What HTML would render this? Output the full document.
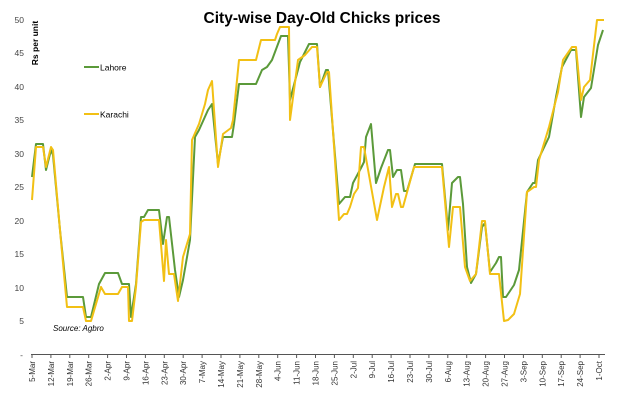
<!DOCTYPE html>
<html><head><meta charset="utf-8"><style>
html,body{margin:0;padding:0;background:#fff;}
svg{display:block;font-family:"Liberation Sans",Arial,sans-serif;}
</style></head><body>
<svg width="619" height="401" viewBox="0 0 619 401">
<text x="322" y="23" font-size="15.5" font-weight="bold" text-anchor="middle" fill="#000">City-wise Day-Old Chicks prices</text>
<text transform="translate(38,43) rotate(-90)" font-size="8.5" font-weight="bold" text-anchor="middle" fill="#000">Rs per unit</text>
<g font-size="8.5" fill="#444" text-anchor="end">
<text x="24" y="23">50</text><text x="24" y="56">45</text><text x="24" y="90">40</text>
<text x="24" y="123">35</text><text x="24" y="157">30</text><text x="24" y="190">25</text>
<text x="24" y="224">20</text><text x="24" y="257">15</text><text x="24" y="291">10</text>
<text x="24" y="324">5</text><text x="23" y="358">-</text>
</g>
<line x1="31" y1="354.5" x2="605" y2="354.5" stroke="#555" stroke-width="1"/>
<g stroke="#555" stroke-width="1">
<line x1="32" y1="354.5" x2="32" y2="358"/><line x1="50.9" y1="354.5" x2="50.9" y2="358"/><line x1="69.8" y1="354.5" x2="69.8" y2="358"/><line x1="88.7" y1="354.5" x2="88.7" y2="358"/><line x1="107.6" y1="354.5" x2="107.6" y2="358"/><line x1="126.5" y1="354.5" x2="126.5" y2="358"/><line x1="145.4" y1="354.5" x2="145.4" y2="358"/><line x1="164.3" y1="354.5" x2="164.3" y2="358"/><line x1="183.2" y1="354.5" x2="183.2" y2="358"/><line x1="202.1" y1="354.5" x2="202.1" y2="358"/><line x1="221" y1="354.5" x2="221" y2="358"/><line x1="239.9" y1="354.5" x2="239.9" y2="358"/><line x1="258.8" y1="354.5" x2="258.8" y2="358"/><line x1="277.7" y1="354.5" x2="277.7" y2="358"/><line x1="296.6" y1="354.5" x2="296.6" y2="358"/><line x1="315.5" y1="354.5" x2="315.5" y2="358"/><line x1="334.4" y1="354.5" x2="334.4" y2="358"/><line x1="353.3" y1="354.5" x2="353.3" y2="358"/><line x1="372.2" y1="354.5" x2="372.2" y2="358"/><line x1="391.1" y1="354.5" x2="391.1" y2="358"/><line x1="410" y1="354.5" x2="410" y2="358"/><line x1="428.9" y1="354.5" x2="428.9" y2="358"/><line x1="447.8" y1="354.5" x2="447.8" y2="358"/><line x1="466.7" y1="354.5" x2="466.7" y2="358"/><line x1="485.6" y1="354.5" x2="485.6" y2="358"/><line x1="504.5" y1="354.5" x2="504.5" y2="358"/><line x1="523.4" y1="354.5" x2="523.4" y2="358"/><line x1="542.3" y1="354.5" x2="542.3" y2="358"/><line x1="561.2" y1="354.5" x2="561.2" y2="358"/><line x1="580.1" y1="354.5" x2="580.1" y2="358"/><line x1="599" y1="354.5" x2="599" y2="358"/>
</g>
<g font-size="8" fill="#333" text-anchor="end">
<text transform="translate(35,361) rotate(-90)">5-Mar</text>
<text transform="translate(53.9,361) rotate(-90)">12-Mar</text>
<text transform="translate(72.8,361) rotate(-90)">19-Mar</text>
<text transform="translate(91.7,361) rotate(-90)">26-Mar</text>
<text transform="translate(110.6,361) rotate(-90)">2-Apr</text>
<text transform="translate(129.5,361) rotate(-90)">9-Apr</text>
<text transform="translate(148.4,361) rotate(-90)">16-Apr</text>
<text transform="translate(167.3,361) rotate(-90)">23-Apr</text>
<text transform="translate(186.2,361) rotate(-90)">30-Apr</text>
<text transform="translate(205.1,361) rotate(-90)">7-May</text>
<text transform="translate(224,361) rotate(-90)">14-May</text>
<text transform="translate(242.9,361) rotate(-90)">21-May</text>
<text transform="translate(261.8,361) rotate(-90)">28-May</text>
<text transform="translate(280.7,361) rotate(-90)">4-Jun</text>
<text transform="translate(299.6,361) rotate(-90)">11-Jun</text>
<text transform="translate(318.5,361) rotate(-90)">18-Jun</text>
<text transform="translate(337.4,361) rotate(-90)">25-Jun</text>
<text transform="translate(356.3,361) rotate(-90)">2-Jul</text>
<text transform="translate(375.2,361) rotate(-90)">9-Jul</text>
<text transform="translate(394.1,361) rotate(-90)">16-Jul</text>
<text transform="translate(413,361) rotate(-90)">23-Jul</text>
<text transform="translate(431.9,361) rotate(-90)">30-Jul</text>
<text transform="translate(450.8,361) rotate(-90)">6-Aug</text>
<text transform="translate(469.7,361) rotate(-90)">13-Aug</text>
<text transform="translate(488.6,361) rotate(-90)">20-Aug</text>
<text transform="translate(507.5,361) rotate(-90)">27-Aug</text>
<text transform="translate(526.4,361) rotate(-90)">3-Sep</text>
<text transform="translate(545.3,361) rotate(-90)">10-Sep</text>
<text transform="translate(564.2,361) rotate(-90)">17-Sep</text>
<text transform="translate(583.1,361) rotate(-90)">24-Sep</text>
<text transform="translate(602,361) rotate(-90)">1-Oct</text>
</g>
<text x="53" y="331" font-size="8" font-style="italic" fill="#000">Source: Agbro</text>
<line x1="84" y1="67" x2="99" y2="67" stroke="#5b9a3a" stroke-width="2"/>
<text x="100" y="70.5" font-size="8.5" fill="#000">Lahore</text>
<line x1="84" y1="114" x2="99" y2="114" stroke="#f2c014" stroke-width="2"/>
<text x="100" y="117.5" font-size="8.5" fill="#000">Karachi</text>
<polyline fill="none" stroke="#5b9a3a" stroke-width="2" stroke-linejoin="round" points="32,177 36,144 43,144 46,170 51,150 53,155 60,230 67,297 83,297 86,317 91,317 99,284 105,273 118,273 122,284 129,284 131,317 136,284 141,217 144,217 148,210 159,210 163,244 167,217 169,217 175,270 179,297 183,280 190,240 195,137 199,130 208,110 212,104 218,164 223,137 232,137 234,124 239,84 256,84 262,70 267,67 272,60 281,36 288,36 290,100 300,62 305,52 309,44 317,44 320,87 326,70 328,70 339,204 345,197 350,197 353,183 361,168 364,162 366,137 371,124 376,183 381,168 388,150 390,150 393,177 397,170 401,170 404,191 407,191 415,164 442,164 448,230 452,183 458,177 460,177 463,204 467,267 471,283 476,274 482,227 485,223 490,272 496,263 499,257 501,257 503,297 506,297 514,285 519,270 527,192 533,183 535,183 538,160 549,137 556,97 562,67 571,50 576,50 581,117 584,97 591,88 598,45 603,30"/>
<polyline fill="none" stroke="#f2c014" stroke-width="2" stroke-linejoin="round" points="32,200 36,147 43,147 46,167 51,147 53,150 60,230 67,307 83,307 86,321 91,321 101,287 105,294 118,294 122,287 128,287 129,321 132,321 136,287 141,222 144,220 159,220 164,281 166,240 169,274 174,274 178,301 183,257 190,234 192,140 199,124 205,104 208,90 212,81 218,167 223,134 231,128 233,120 239,60 256,60 261,40 275,40 277,34 280,27 289,27 290,120 298,60 305,55 312,47 317,47 320,87 327,72 329,72 339,220 344,214 347,214 350,207 354,194 358,188 361,147 364,147 377,220 384,187 389,167 392,207 396,194 398,194 401,207 403,207 414,167 442,167 449,247 453,207 460,207 465,267 470,281 476,274 482,221 485,221 490,274 499,274 504,321 508,320 514,314 520,294 527,192 534,187 536,187 539,160 549,127 558,92 563,60 572,47 576,47 581,100 584,87 590,80 597,20 604,20"/>
</svg>
</body></html>
